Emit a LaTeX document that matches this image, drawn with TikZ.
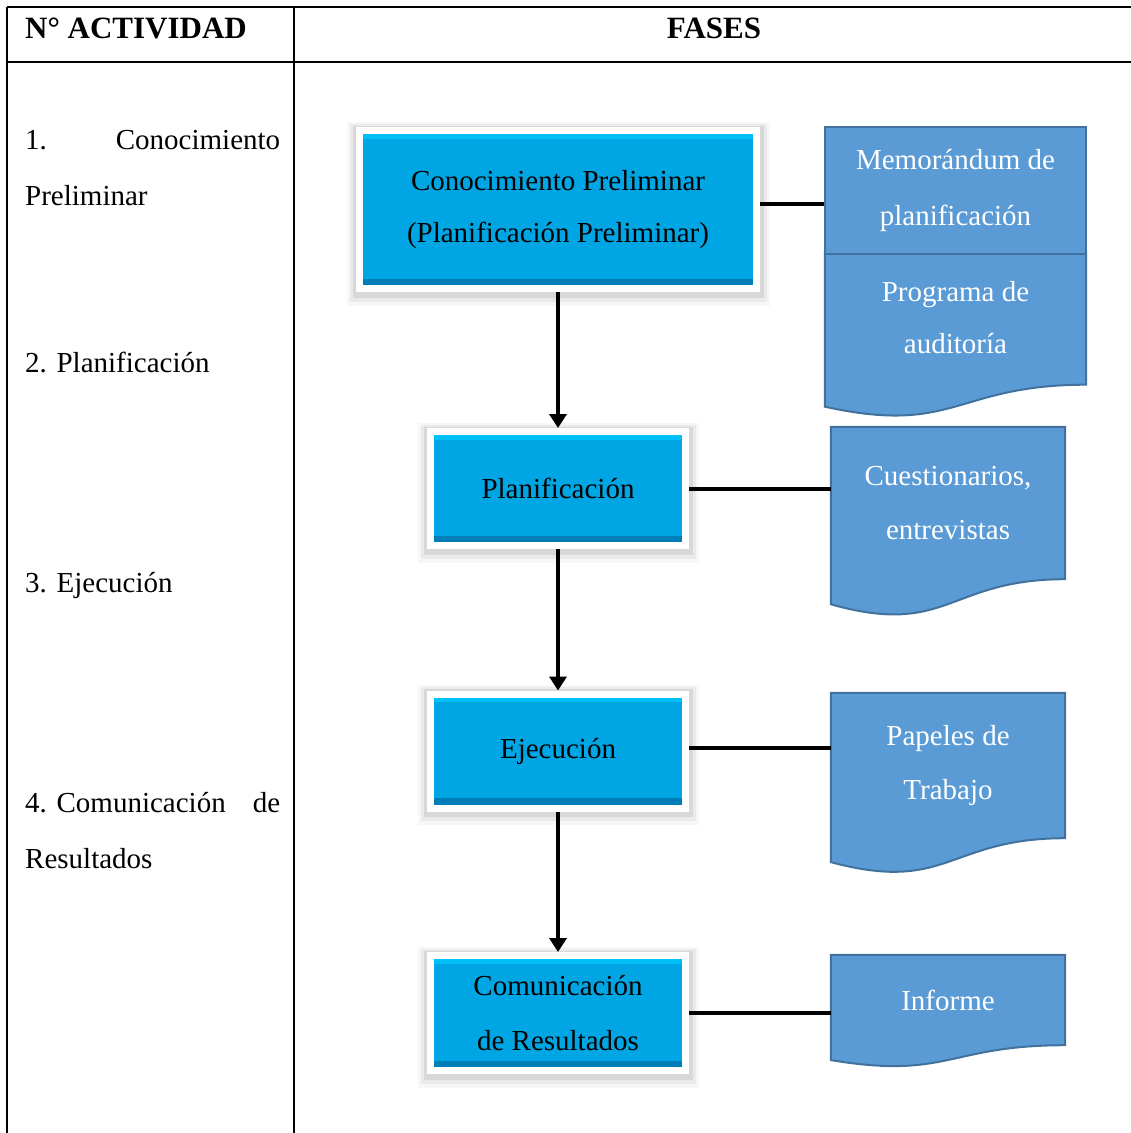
\documentclass[tikz,border=0pt]{standalone}
\usepackage{fontspec}
\setmainfont{Liberation Serif}
\usetikzlibrary{arrows.meta,calc,backgrounds}

\definecolor{faseazul}{RGB}{0,166,228}
\definecolor{faseclaro}{RGB}{0,192,250}
\definecolor{faseoscuro}{RGB}{0,126,184}
\definecolor{docazul}{RGB}{91,155,213}
\definecolor{docborde}{RGB}{65,113,156}

\tikzset{
  fase/.style={fill=faseazul, draw=white, line width=7pt, align=center, inner sep=0pt,
    font=\fontsize{29}{52}\selectfont,
    preaction={draw=black, line width=26pt, opacity=.03, transform canvas={yshift=-4pt}},
    preaction={draw=black, line width=20pt, opacity=.05, transform canvas={yshift=-3pt}},
    preaction={draw=black, line width=14pt, opacity=.08, transform canvas={yshift=-2pt}},
    path picture={
      \fill[faseclaro] ([xshift=3.5pt,yshift=-3.5pt]path picture bounding box.north west)
        rectangle ([xshift=-3.5pt,yshift=-8pt]path picture bounding box.north east);
      \fill[faseoscuro] ([xshift=3.5pt,yshift=10pt]path picture bounding box.south west)
        rectangle ([xshift=-3.5pt,yshift=3.5pt]path picture bounding box.south east);
    }},
  docu/.style={text=white, align=center, inner sep=0pt, font=\fontsize{29}{54}\selectfont},
  actividad/.style={anchor=base west, text width=255pt, align=left, inner sep=0pt,
    font=\fontsize{29}{56}\selectfont},
  titulo/.style={inner sep=0pt, font=\fontsize{31}{36}\selectfont\bfseries},
  tabla/.style={line width=2pt},
  flecha/.style={line width=4pt, -{Triangle[width=17pt,length=14pt]}},
  enlace/.style={line width=4pt},
}

% hoja con borde ondulado
\newcommand{\documento}[1]{
  \draw[fill=docazul, draw=docborde, line width=2pt]
    (#1.north west) -- (#1.north east) -- (#1.south east)
    .. controls (#1.south) and ($(#1.north)!1.381!(#1.south)$) ..
    ($(#1.north west)!1.1646!(#1.south west)$) -- cycle;
}

\frenchspacing

\begin{document}
\begin{tikzpicture}[x=1pt,y=-1pt]
  \useasboundingbox (0,0) rectangle (1131,1133);

  % Tabla
  \draw[tabla] (7,7) -- (1131,7);
  \draw[tabla] (7,62) -- (1131,62);
  \draw[tabla] (7,7) -- (7,1133);
  \draw[tabla] (294,7) -- (294,1133);
  \node[titulo, anchor=base west] (tit1) at (25,38) {N° ACTIVIDAD};
  \node[titulo, anchor=base] (tit2) at (714,38) {FASES};

  % Actividades
  \node[actividad] (act1) at (25,149) {1.\hfill Conocimiento\\Preliminar};
  \node[actividad] (act2) at (25,372) {2. Planificación};
  \node[actividad] (act3) at (25,592) {3. Ejecución};
  \node[actividad] (act4) at (25,812) {4. Comunicación\hfill de\\Resultados};

  % Fases
  \node[fase, minimum width=397pt, minimum height=158pt] (fase1) at (558,209.5) {Conocimiento Preliminar\\(Planificación Preliminar)};
  \node[fase, minimum width=255pt, minimum height=114pt] (fase2) at (558,488.5) {Planificación};
  \node[fase, minimum width=255pt, minimum height=114pt] (fase3) at (558,751) {Ejecución};
  \node[fase, minimum width=255pt, minimum height=115pt, font=\fontsize{29}{55}\selectfont] (fase4) at (558,1013) {Comunicación\\de Resultados};

  % Documentos
  \node[docu, fill=docazul, draw=docborde, line width=2pt, minimum width=261pt, minimum height=127pt, font=\fontsize{29}{56}\selectfont] (doc1) at (955.5,190.5) {Memorándum de\\planificación};
  \node[docu, minimum width=261pt, minimum height=133pt, font=\fontsize{29}{52}\selectfont] (doc2) at (955.5,318) {Programa de\\auditoría};
  \node[docu, minimum width=234pt, minimum height=152pt] (doc3) at (948,503) {Cuestionarios,\\entrevistas};
  \node[docu, minimum width=234pt, minimum height=145pt] (doc4) at (948,765.5) {Papeles de\\Trabajo};
  \node[docu, minimum width=234pt, minimum height=90pt] (doc5) at (948,1000) {Informe};
  \begin{scope}[on background layer]
    \documento{doc2}
    \documento{doc3}
    \documento{doc4}
    \documento{doc5}
  \end{scope}

  % Conectores
  \draw[flecha] (fase1.south) -- (fase1.south |- fase2.north);
  \draw[flecha] (fase2.south) -- (fase2.south |- fase3.north);
  \draw[flecha] (fase3.south) -- (fase3.south |- fase4.north);
  \draw[enlace] ([yshift=6pt]fase1.east) -- ([yshift=6pt]fase1.east -| doc1.west);
  \draw[enlace] (fase2.east) -- (fase2.east -| doc3.west);
  \draw[enlace] ([yshift=3pt]fase3.east) -- ([yshift=3pt]fase3.east -| doc4.west);
  \draw[enlace] (fase4.east) -- (fase4.east -| doc5.west);
\end{tikzpicture}
\end{document}
